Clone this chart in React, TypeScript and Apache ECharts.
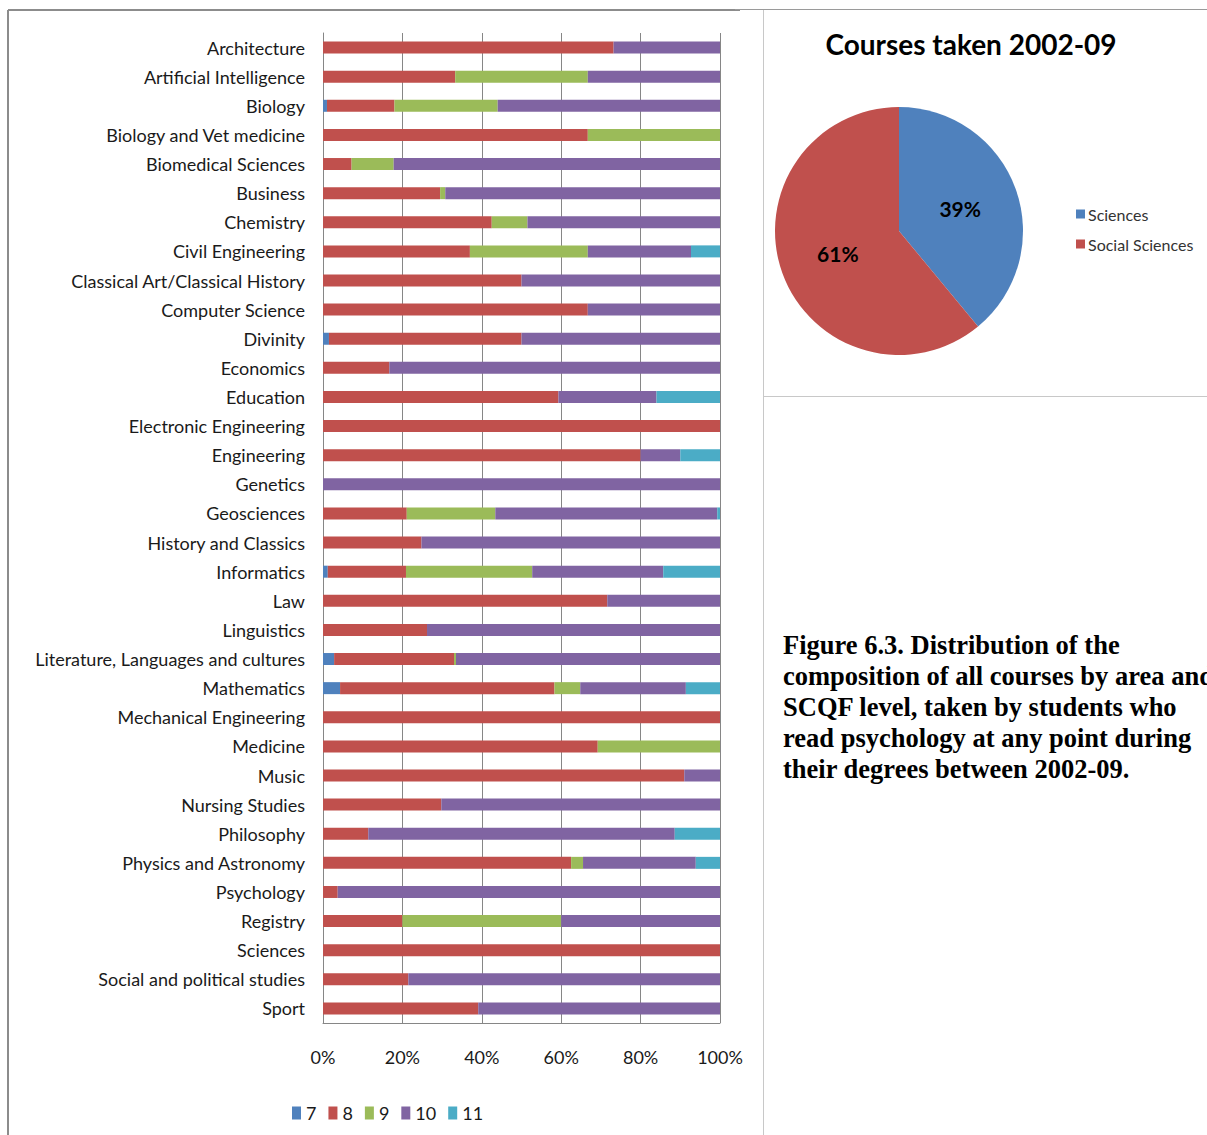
import React, { useEffect, useRef } from "react";
import * as echarts from "echarts";

const categories = [
  "Architecture",
  "Artificial Intelligence",
  "Biology",
  "Biology and Vet medicine",
  "Biomedical Sciences",
  "Business",
  "Chemistry",
  "Civil Engineering",
  "Classical Art/Classical History",
  "Computer Science",
  "Divinity",
  "Economics",
  "Education",
  "Electronic Engineering",
  "Engineering",
  "Genetics",
  "Geosciences",
  "History and Classics",
  "Informatics",
  "Law",
  "Linguistics",
  "Literature, Languages and cultures",
  "Mathematics",
  "Mechanical Engineering",
  "Medicine",
  "Music",
  "Nursing Studies",
  "Philosophy",
  "Physics and Astronomy",
  "Psychology",
  "Registry",
  "Sciences",
  "Social and political studies",
  "Sport",
];

// Share of courses (%) at each SCQF level, per area
const level7 = [0, 0, 1, 0, 0, 0, 0, 0, 0, 0, 1.5, 0, 0, 0, 0, 0, 0, 0, 1.2, 0, 0, 2.8, 4.3, 0, 0, 0, 0, 0, 0, 0, 0, 0, 0, 0];
const level8 = [73.2, 33.3, 17, 66.7, 7.2, 29.5, 42.5, 37, 50, 66.7, 48.5, 16.7, 59.3, 100, 80, 0, 21.1, 24.8, 19.7, 71.6, 26.2, 30.2, 54, 100, 69.2, 91, 29.8, 11.4, 62.5, 3.7, 20, 100, 21.5, 39.1];
const level9 = [0, 33.4, 26, 33.3, 10.6, 1.3, 9, 29.7, 0, 0, 0, 0, 0, 0, 0, 0, 22.3, 0, 31.8, 0, 0, 0.5, 6.5, 0, 30.8, 0, 0, 0, 3, 0, 40, 0, 0, 0];
const level10 = [26.8, 33.3, 56, 0, 82.2, 69.2, 48.5, 26, 50, 33.3, 50, 83.3, 24.7, 0, 10, 100, 55.9, 75.2, 33, 28.4, 73.8, 66.5, 26.6, 0, 0, 9, 70.2, 77.2, 28.4, 96.3, 40, 0, 78.5, 60.9];
const level11 = [0, 0, 0, 0, 0, 0, 0, 7.3, 0, 0, 0, 0, 16, 0, 10, 0, 0.7, 0, 14.3, 0, 0, 0, 8.6, 0, 0, 0, 0, 11.4, 6.1, 0, 0, 0, 0, 0];

const levelNames = ["7", "8", "9", "10", "11"];
const levelColors = ["#4F81BD", "#C0504D", "#9BBB59", "#8064A2", "#4BACC6"];

const areaNames = ["Sciences", "Social Sciences"];
const areaShares = [39, 61];
const areaColors = ["#4F81BD", "#C0504D"];

const pieTitle = "Courses taken 2002-09";
const captionLines = [
  "Figure 6.3. Distribution of the",
  "composition of all courses by area and",
  "SCQF level, taken by students who",
  "read psychology at any point during",
  "their degrees between 2002-09.",
];

const FONT = "Lato";

export default function App() {
  const ref = useRef<HTMLDivElement>(null);

  useEffect(() => {
    if (!ref.current) return;
    const chart = echarts.init(ref.current, null, { renderer: "svg" });
    const levels = [level7, level8, level9, level10, level11];

    const barSeries = levels.map((vals, i) => ({
      name: levelNames[i],
      type: "bar",
      stack: "total",
      barWidth: 12,
      data: vals,
      itemStyle: { color: levelColors[i] },
      xAxisIndex: 0,
      yAxisIndex: 0,
    }));

    chart.setOption({
      animation: false,
      backgroundColor: "#ffffff",
      textStyle: { fontFamily: FONT },
      grid: { left: 323, top: 33, width: 397, height: 990, containLabel: false },
      xAxis: {
        type: "value",
        min: 0,
        max: 100,
        interval: 20,
        axisLine: { show: true, lineStyle: { color: "#868686" } },
        axisTick: { show: false },
        splitLine: { show: true, lineStyle: { color: "#868686", width: 1 } },
        axisLabel: {
          formatter: "{value}%",
          fontSize: 18,
          color: "#1a1a1a",
          margin: 25,
          fontFamily: FONT,
        },
      },
      yAxis: {
        type: "category",
        data: categories,
        inverse: true,
        axisLine: { show: true, lineStyle: { color: "#868686" } },
        axisTick: { show: false },
        axisLabel: { fontSize: 18, color: "#1a1a1a", margin: 18, fontFamily: FONT },
      },
      legend: [
        {
          data: levelNames,
          left: 292,
          top: 1104,
          padding: 0,
          orient: "horizontal",
          icon: "rect",
          itemWidth: 9,
          itemHeight: 13,
          itemGap: 12,
          textStyle: { fontSize: 18, color: "#1a1a1a", fontFamily: FONT },
        },
        {
          data: areaNames,
          left: 1071,
          top: 201,
          orient: "vertical",
          icon: "rect",
          itemWidth: 9,
          itemHeight: 9,
          itemGap: 14,
          textStyle: { fontSize: 16, color: "#333333", fontFamily: FONT, padding: [0, 0, 0, -2] },
        },
      ],
      series: [
        ...barSeries,
        {
          type: "pie",
          name: "area",
          center: [899, 231],
          radius: 124,
          startAngle: 90,
          clockwise: true,
          data: areaNames.map((n, i) => ({
            name: n,
            value: areaShares[i],
            itemStyle: { color: areaColors[i] },
          })),
          itemStyle: { borderWidth: 0 },
          label: {
            show: true,
            position: "inside",
            formatter: (p: any) => `${p.value}%`,
            fontSize: 21,
            fontWeight: "bold",
            color: "#000000",
            fontFamily: FONT,
          },
          labelLine: { show: false },
          emphasis: { disabled: true },
        },
      ],
      graphic: [
        // panel frames
        { type: "line", shape: { x1: 8, y1: 10, x2: 740, y2: 10 }, style: { stroke: "#8c8c8c", lineWidth: 2 } },
        { type: "line", shape: { x1: 8, y1: 10, x2: 8, y2: 1135 }, style: { stroke: "#8c8c8c", lineWidth: 2 } },
        { type: "line", shape: { x1: 735, y1: 9.5, x2: 1207, y2: 9.5 }, style: { stroke: "#9a9a9a", lineWidth: 1 } },
        { type: "line", shape: { x1: 763.5, y1: 10, x2: 763.5, y2: 1135 }, style: { stroke: "#c8c8c8", lineWidth: 1 } },
        { type: "line", shape: { x1: 763, y1: 396.5, x2: 1207, y2: 396.5 }, style: { stroke: "#c8c8c8", lineWidth: 1 } },
        {
          type: "text",
          x: 971,
          y: 44,
          style: {
            text: pieTitle,
            font: `bold 28px ${FONT}`,
            fill: "#000000",
            textAlign: "center",
            textVerticalAlign: "middle",
          },
        },
        ...captionLines.map((line, i) => ({
          type: "text",
          x: 783,
          y: 645 + i * 31,
          style: {
            text: line,
            font: "bold 26.5px 'Liberation Serif'",
            fill: "#000000",
            textAlign: "left",
            textVerticalAlign: "middle",
          },
        })),
      ],
    });

    return () => chart.dispose();
  }, []);

  return (
    <div
      ref={ref}
      style={{ position: "fixed", left: 0, top: 0, width: 1207, height: 1135, background: "#fff" }}
    />
  );
}
